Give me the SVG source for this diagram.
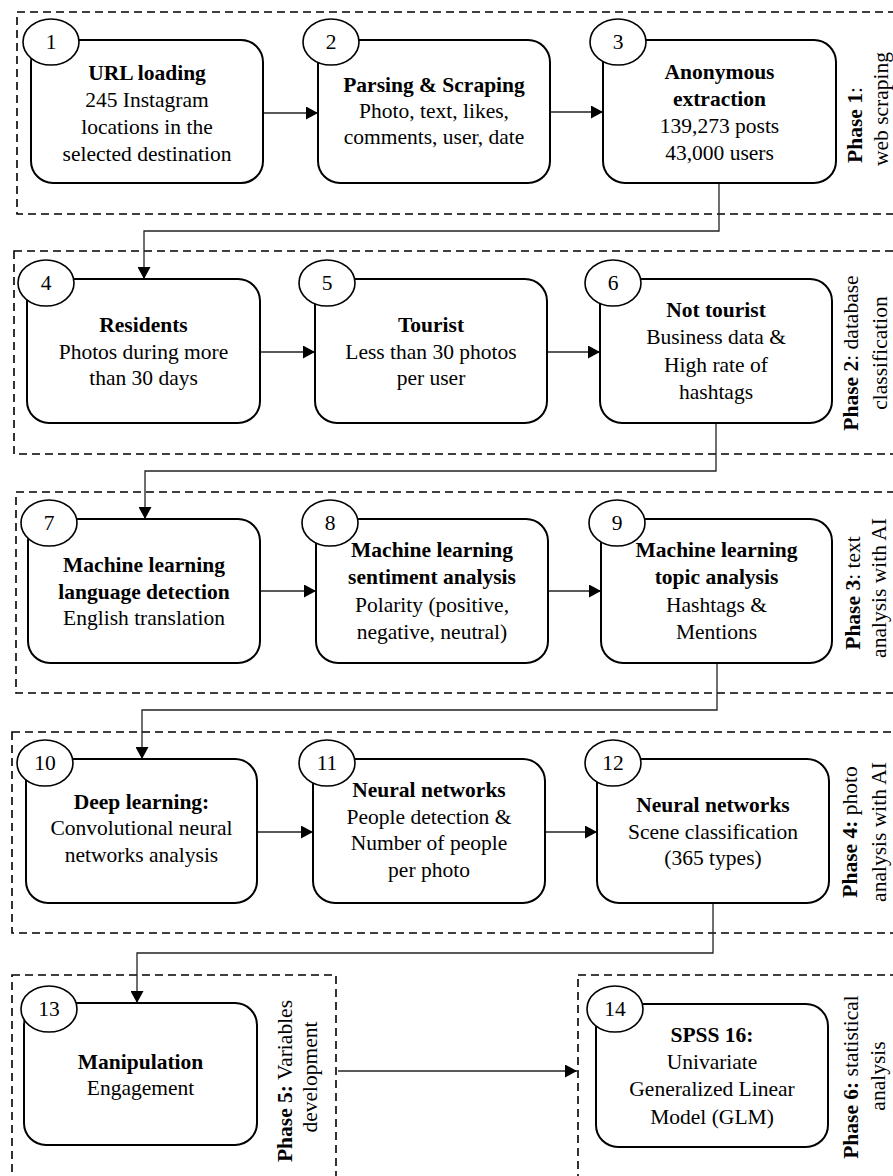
<svg xmlns="http://www.w3.org/2000/svg" width="893" height="1176" viewBox="0 0 893 1176">
<style>
text{font-family:"Liberation Serif","Times New Roman",serif;font-size:21.5px;fill:#000;}
.b{font-weight:bold;}
.c{text-anchor:middle;}
.phase{fill:none;stroke:#000;stroke-width:1.6;stroke-dasharray:8,5;}
.box{fill:#fff;stroke:#000;stroke-width:2;}
.num{fill:#fff;stroke:#000;stroke-width:1.6;}
.con{fill:none;stroke:#222;stroke-width:1.3;}
</style>
<defs>
<marker id="ah" markerUnits="userSpaceOnUse" markerWidth="13" markerHeight="13" refX="12" refY="6.5" orient="auto">
<path d="M0,0 L12,6.5 L0,13 z" fill="#000"/>
</marker>
</defs>

<g id="phases">
<rect class="phase" x="17" y="12" width="890" height="202"/>
<rect class="phase" x="14" y="251" width="893" height="203"/>
<rect class="phase" x="16" y="492" width="891" height="201"/>
<rect class="phase" x="12" y="732" width="895" height="201"/>
<rect class="phase" x="12" y="975" width="324" height="210"/>
<rect class="phase" x="578" y="975" width="329" height="210"/>
</g>

<g id="phase-labels">
<text class="c" transform="translate(862,125) rotate(-90)"><tspan class="b">Phase 1</tspan>:</text>
<text class="c" transform="translate(888,109) rotate(-90)">web scraping</text>
<text class="c" transform="translate(858,353) rotate(-90)"><tspan class="b">Phase 2</tspan>: database</text>
<text class="c" transform="translate(887,353) rotate(-90)">classification</text>
<text class="c" transform="translate(860,593) rotate(-90)"><tspan class="b">Phase 3</tspan>: text</text>
<text class="c" transform="translate(886,588) rotate(-90)">analysis with AI</text>
<text class="c" transform="translate(857,832) rotate(-90)"><tspan class="b">Phase 4:</tspan> photo</text>
<text class="c" transform="translate(886,832) rotate(-90)">analysis with AI</text>
<text class="c" transform="translate(292,1081) rotate(-90)"><tspan class="b">Phase 5:</tspan> Variables</text>
<text class="c" transform="translate(317,1077) rotate(-90)">development</text>
<text class="c" transform="translate(858,1077) rotate(-90)"><tspan class="b">Phase 6:</tspan> statistical</text>
<text class="c" transform="translate(885,1076) rotate(-90)">analysis</text>
</g>

<g id="connectors">
<line class="con" x1="263" y1="113" x2="318" y2="113" marker-end="url(#ah)"/>
<line class="con" x1="550" y1="112" x2="603" y2="112" marker-end="url(#ah)"/>
<polyline class="con" points="719,183 719,231 144,231 144,279" marker-end="url(#ah)"/>
<line class="con" x1="260" y1="352" x2="315" y2="352" marker-end="url(#ah)"/>
<line class="con" x1="547" y1="352" x2="600" y2="352" marker-end="url(#ah)"/>
<polyline class="con" points="716,423 716,471 145,471 145,519" marker-end="url(#ah)"/>
<line class="con" x1="260" y1="591" x2="316" y2="591" marker-end="url(#ah)"/>
<line class="con" x1="548" y1="591" x2="601" y2="591" marker-end="url(#ah)"/>
<polyline class="con" points="717,663 717,710 142,710 142,759" marker-end="url(#ah)"/>
<line class="con" x1="257" y1="832" x2="313" y2="832" marker-end="url(#ah)"/>
<line class="con" x1="545" y1="832" x2="597" y2="832" marker-end="url(#ah)"/>
<polyline class="con" points="713,903 713,953 137,953 137,1003" marker-end="url(#ah)"/>
<line class="con" x1="338" y1="1071" x2="577" y2="1071" marker-end="url(#ah)"/>
</g>

<g id="node1">
<rect class="box" x="31" y="40" width="232" height="143" rx="22"/>
<ellipse class="num" cx="51" cy="42" rx="28" ry="23"/>
<text class="c" x="51" y="49">1</text>
<text class="c b" x="147" y="80">URL loading</text>
<text class="c" x="147" y="107">245 Instagram</text>
<text class="c" x="147" y="134">locations in the</text>
<text class="c" x="147" y="161">selected destination</text>
</g>

<g id="node2">
<rect class="box" x="318" y="40" width="232" height="143" rx="22"/>
<ellipse class="num" cx="331" cy="42" rx="28" ry="23"/>
<text class="c" x="331" y="49">2</text>
<text class="c b" x="434" y="92">Parsing &amp; Scraping</text>
<text class="c" x="434" y="118">Photo, text, likes,</text>
<text class="c" x="434" y="144">comments, user, date</text>
</g>

<g id="node3">
<rect class="box" x="603" y="40" width="233" height="143" rx="22"/>
<ellipse class="num" cx="618" cy="42" rx="28" ry="23"/>
<text class="c" x="618" y="49">3</text>
<text class="c b" x="719.5" y="79">Anonymous</text>
<text class="c b" x="719.5" y="106">extraction</text>
<text class="c" x="719.5" y="133">139,273 posts</text>
<text class="c" x="719.5" y="160">43,000 users</text>
</g>

<g id="node4">
<rect class="box" x="27" y="279" width="233" height="144" rx="22"/>
<ellipse class="num" cx="46" cy="283" rx="28" ry="23"/>
<text class="c" x="46" y="290">4</text>
<text class="c b" x="143.5" y="332">Residents</text>
<text class="c" x="143.5" y="359">Photos during more</text>
<text class="c" x="143.5" y="385">than 30 days</text>
</g>

<g id="node5">
<rect class="box" x="315" y="279" width="232" height="144" rx="22"/>
<ellipse class="num" cx="327" cy="283" rx="28" ry="23"/>
<text class="c" x="327" y="290">5</text>
<text class="c b" x="431" y="332">Tourist</text>
<text class="c" x="431" y="359">Less than 30 photos</text>
<text class="c" x="431" y="385">per user</text>
</g>

<g id="node6">
<rect class="box" x="600" y="279" width="232" height="144" rx="22"/>
<ellipse class="num" cx="613" cy="283" rx="28" ry="23"/>
<text class="c" x="613" y="290">6</text>
<text class="c b" x="716" y="317">Not tourist</text>
<text class="c" x="716" y="344">Business data &amp;</text>
<text class="c" x="716" y="372">High rate of</text>
<text class="c" x="716" y="399">hashtags</text>
</g>

<g id="node7">
<rect class="box" x="28" y="519" width="232" height="144" rx="22"/>
<ellipse class="num" cx="49" cy="523" rx="28" ry="23"/>
<text class="c" x="49" y="530">7</text>
<text class="c b" x="144" y="572">Machine learning</text>
<text class="c b" x="144" y="599">language detection</text>
<text class="c" x="144" y="625">English translation</text>
</g>

<g id="node8">
<rect class="box" x="316" y="519" width="232" height="144" rx="22"/>
<ellipse class="num" cx="330" cy="523" rx="28" ry="23"/>
<text class="c" x="330" y="530">8</text>
<text class="c b" x="432" y="557">Machine learning</text>
<text class="c b" x="432" y="584">sentiment analysis</text>
<text class="c" x="432" y="612">Polarity (positive,</text>
<text class="c" x="432" y="639">negative, neutral)</text>
</g>

<g id="node9">
<rect class="box" x="601" y="519" width="231" height="144" rx="22"/>
<ellipse class="num" cx="617" cy="523" rx="28" ry="23"/>
<text class="c" x="617" y="530">9</text>
<text class="c b" x="716.5" y="557">Machine learning</text>
<text class="c b" x="716.5" y="584">topic analysis</text>
<text class="c" x="716.5" y="612">Hashtags &amp;</text>
<text class="c" x="716.5" y="639">Mentions</text>
</g>

<g id="node10">
<rect class="box" x="26" y="759" width="231" height="144" rx="22"/>
<ellipse class="num" cx="45" cy="763" rx="28" ry="23"/>
<text class="c" x="45" y="770">10</text>
<text class="c b" x="141.5" y="809">Deep learning:</text>
<text class="c" x="141.5" y="835">Convolutional neural</text>
<text class="c" x="141.5" y="862">networks analysis</text>
</g>

<g id="node11">
<rect class="box" x="313" y="759" width="232" height="144" rx="22"/>
<ellipse class="num" cx="327" cy="763" rx="28" ry="23"/>
<text class="c" x="327" y="770">11</text>
<text class="c b" x="429" y="797">Neural networks</text>
<text class="c" x="429" y="824">People detection &amp;</text>
<text class="c" x="429" y="850">Number of people</text>
<text class="c" x="429" y="877">per photo</text>
</g>

<g id="node12">
<rect class="box" x="597" y="759" width="232" height="144" rx="22"/>
<ellipse class="num" cx="613" cy="763" rx="28" ry="23"/>
<text class="c" x="613" y="770">12</text>
<text class="c b" x="713" y="812">Neural networks</text>
<text class="c" x="713" y="839">Scene classification</text>
<text class="c" x="713" y="865">(365 types)</text>
</g>

<g id="node13">
<rect class="box" x="24" y="1003" width="233" height="142" rx="22"/>
<ellipse class="num" cx="49" cy="1009" rx="28" ry="23"/>
<text class="c" x="49" y="1016">13</text>
<text class="c b" x="140.5" y="1069">Manipulation</text>
<text class="c" x="140.5" y="1095">Engagement</text>
</g>

<g id="node14">
<rect class="box" x="596" y="1004" width="232" height="143" rx="22"/>
<ellipse class="num" cx="615" cy="1009" rx="28" ry="23"/>
<text class="c" x="615" y="1016">14</text>
<text class="c b" x="712" y="1042">SPSS 16:</text>
<text class="c" x="712" y="1069">Univariate</text>
<text class="c" x="712" y="1096">Generalized Linear</text>
<text class="c" x="712" y="1124">Model (GLM)</text>
</g>
</svg>
